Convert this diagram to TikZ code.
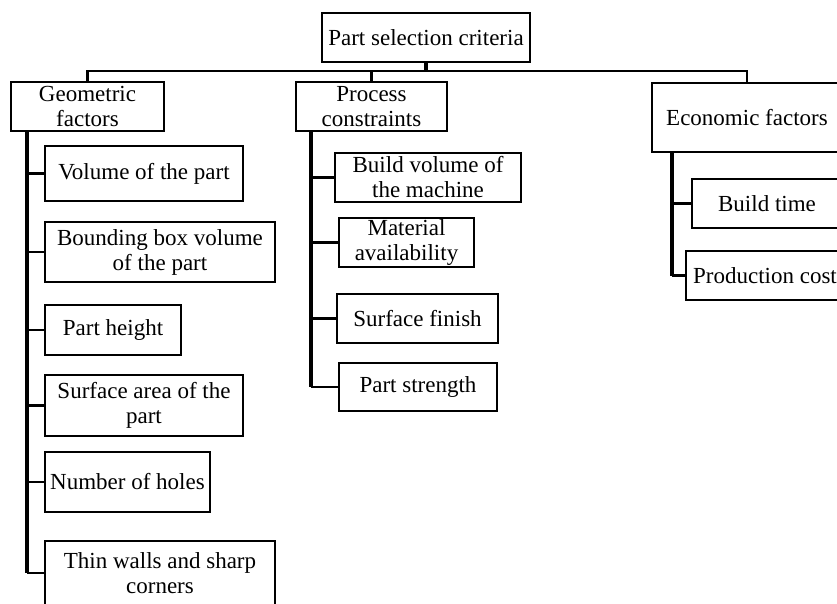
\documentclass[tikz,border=0pt]{standalone}
\usepackage{fontspec}
\setmainfont{Liberation Serif}

\begin{document}
\begin{tikzpicture}[x=1pt, y=-1pt]
    \definecolor{borderColour}{HTML}{000000}

    \tikzset{
        critBox/.style={draw=borderColour, line width=2.6pt, inner sep=0pt,
            align=center, font=\fontsize{23}{25}\selectfont},
        treeLink/.style={draw=borderColour, line width=2.6pt},
        trunkLink/.style={draw=borderColour, line width=3.4pt}
    }

    % Page frame
    \useasboundingbox (0,0) rectangle (837,603);
    \clip (0,0) rectangle (837,603);

    % Root and first level
    \node[critBox, minimum width=208pt, minimum height=49pt] (root) at (426,37.5) {Part selection criteria};
    \node[critBox, minimum width=153pt, minimum height=49pt] (geo) at (87.5,106.5) {Geometric\\factors};
    \node[critBox, minimum width=151pt, minimum height=49pt] (proc) at (371.5,106.5) {Process\\constraints};
    \node[critBox, minimum width=190pt, minimum height=69pt] (eco) at (747,117.5) {Economic factors};

    % Geometric factors
    \node[critBox, minimum width=198pt, minimum height=55pt] (g1) at (144,173.5) {Volume of the part};
    \node[critBox, minimum width=230pt, minimum height=60pt] (g2) at (160,252) {Bounding box volume\\of the part};
    \node[critBox, minimum width=136pt, minimum height=50pt] (g3) at (113,330) {Part height};
    \node[critBox, minimum width=198pt, minimum height=61pt] (g4) at (144,405.5) {Surface area of the\\part};
    \node[critBox, minimum width=165pt, minimum height=60pt] (g5) at (127.5,482) {Number of holes};
    \node[critBox, minimum width=230pt, minimum height=64pt] (g6) at (160,573) {Thin walls and sharp\\corners};

    % Process constraints
    \node[critBox, minimum width=186pt, minimum height=49pt] (p1) at (428,177.5) {Build volume of\\the machine};
    \node[critBox, minimum width=135pt, minimum height=49pt] (p2) at (406.5,242.5) {Material\\availability};
    \node[critBox, minimum width=161pt, minimum height=49pt] (p3) at (417.5,318.5) {Surface finish};
    \node[critBox, minimum width=158pt, minimum height=48pt] (p4) at (418,387) {Part strength};

    % Economic factors
    \node[critBox, minimum width=150pt, minimum height=49pt] (e1) at (767,203.5) {Build time};
    \node[critBox, minimum width=158pt, minimum height=49pt] (e2) at (765,275.5) {Production cost};

    % Draw bus
    \coordinate (bus) at (426,71);
    \draw[trunkLink] (root.south) -- (bus);
    \draw[treeLink] (geo.north) |- (bus) -| (eco.north);
    \draw[treeLink] (proc.north) -- (proc.north |- bus);

    % Draw trunks
    \coordinate (geoTrunk) at (27,131);
    \coordinate (procTrunk) at (311,131);
    \coordinate (ecoTrunk) at (672,152);
    \draw[trunkLink] (geoTrunk) -- (geoTrunk |- g6.west);
    \draw[trunkLink] (procTrunk) -- (procTrunk |- p4.west);
    \draw[trunkLink] (ecoTrunk) -- (ecoTrunk |- e2.west);
    \foreach \c in {g1,g2,g3,g4,g5,g6}
        \draw[treeLink] (geoTrunk |- \c.west) -- (\c.west);
    \foreach \c in {p1,p2,p3,p4}
        \draw[treeLink] (procTrunk |- \c.west) -- (\c.west);
    \foreach \c in {e1,e2}
        \draw[treeLink] (ecoTrunk |- \c.west) -- (\c.west);

\end{tikzpicture}
\end{document}
